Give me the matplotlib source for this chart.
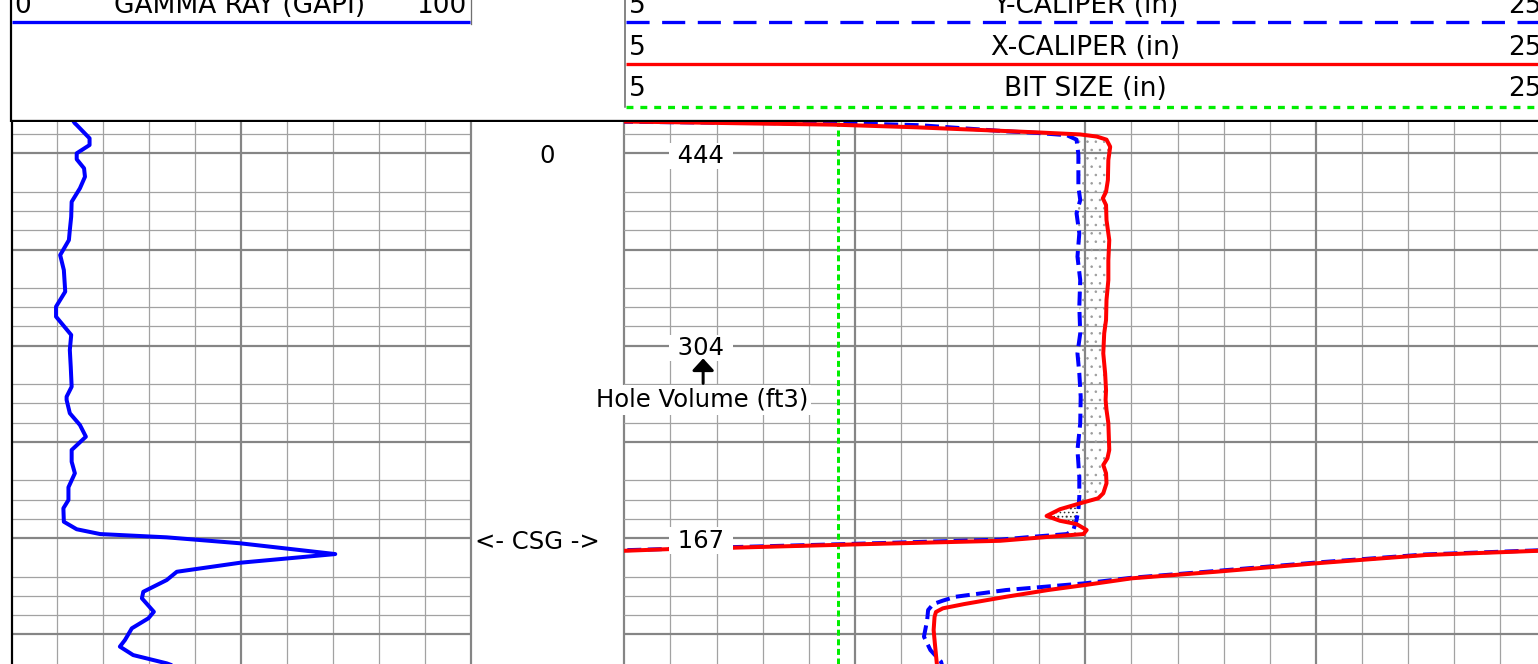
import numpy as np
import matplotlib
matplotlib.use("Agg")
import matplotlib.pyplot as plt

# ---------------- data ----------------
# Gamma ray track: depth (ft) / GAPI
gr_depth = [-16.6, -15.6, -14.7, -7.8, -4.3, 0.0, 3.1, 7.8, 12.2, 18.2, 25.2, 33.0, 39.9, 45.1,
            52.9, 60.7, 71.9, 79.7, 84.9, 94.4, 102.2, 110.9, 121.3, 126.5, 128.2, 135.1, 141.2,
            147.3, 154.2, 160.3, 166.3, 173.6, 180.2, 184.5, 191.5, 195.4, 197.9, 199.6, 202.7,
            208.3, 212.8, 217.5, 221.8, 227.9, 231.3, 238.3, 241.7, 246.9, 253.0, 256.4, 260.8,
            265.1, 267.0]
gr_api = [13.5, 13.8, 14.2, 17.0, 17.0, 14.2, 14.2, 15.8, 16.0, 14.9, 13.1, 13.0, 12.7, 12.5,
          10.6, 11.4, 11.7, 9.7, 9.7, 13.0, 12.7, 12.9, 13.1, 12.0, 12.0, 12.7, 14.9,
          16.2, 13.1, 13.1, 13.8, 12.4, 12.4, 11.3, 11.4, 14.2, 19.3, 33.8, 49.8,
          70.5, 49.8, 36.0, 33.8, 28.7, 28.4, 31.0, 29.8, 26.2, 24.7, 23.6, 26.5,
          33.8, 36.0]

nan = float("nan")
# X-caliper (in)
calx_depth = [-16.8, -16.5, -16.2, -15.6, -14.9, -13.5, -11.7, -10.8, -9.8, -8.7,
              -7.1, -3.4, 3.5, 13.9, 20.0, 23.4, 26.9, 34.7, 41.6, 45.1,
              55.5, 65.9, 76.2, 86.6, 93.6, 104.0, 114.3, 123.1, 128.2, 133.4,
              140.3, 154.2, 158.5, 162.0, 166.3, 171.5, 176.7, 179.3, 181.9, 185.0,
              188.5, 191.0, 192.7, 195.8, 197.9, 199.3, 201.4, 203.2, 205.0, 205.7,
              206.6, 207.4, nan,
              206.1, 206.4, 206.6, 208.8, 213.1, 217.5, 220.9, 224.4, 227.0, 230.5,
              234.3, 236.5, 238.4, 240.9, 247.8, 255.6, 265.4, 268.5]
calx_in = [4.0, 5.0, 5.95, 7.51, 9.53, 11.34, 13.15, 14.02, 14.89, 15.25,
           15.46, 15.54, 15.50, 15.49, 15.45, 15.38, 15.45, 15.46, 15.50, 15.52,
           15.50, 15.50, 15.46, 15.45, 15.41, 15.39, 15.43, 15.45, 15.44, 15.46,
           15.50, 15.52, 15.48, 15.39, 15.45, 15.46, 15.39, 15.28, 14.89, 14.45,
           14.16, 14.45, 14.81, 15.03, 14.96, 14.23, 13.15, 10.11, 7.34, 6.0,
           5.0, 4.0, nan,
           26.0, 25.0, 24.82, 22.38, 20.01, 17.83, 16.01, 14.99, 14.19, 13.28,
           12.37, 11.91, 11.76, 11.73, 11.71, 11.74, 11.78, 11.80]
# Y-caliper (in)
caly_depth = [-16.8, -16.4, -15.8, -15.2, -14.6, -11.4, -10.6, -9.4, -7.1, 0.7,
              10.4, 17.4, 24.3, 31.2, 41.6, 53.7, 65.9, 79.7, 93.6, 104.0,
              114.3, 126.5, 140.3, 154.2, 168.1, 178.5, 185.4, 190.6, 195.8, 197.9,
              199.3, 200.8, 202.9, 204.7, 206.3, 207.1, nan,
              205.8, 206.2, 208.5, 212.7, 217.1, 220.6, 223.5, 227.0, 230.5, 232.5,
              234.3, 237.4, 242.6, 251.2, 258.2, 264.2, 268.5]
caly_in = [4.0, 5.0, 7.5, 10.47, 11.41, 13.30, 13.95, 14.60, 14.81, 14.85,
           14.85, 14.85, 14.89, 14.81, 14.87, 14.83, 14.89, 14.87, 14.89, 14.83,
           14.87, 14.90, 14.89, 14.83, 14.87, 14.87, 14.85, 14.81, 14.74, 14.60,
           13.87, 13.15, 10.11, 7.34, 5.0, 4.0, nan,
           26.0, 25.0, 22.38, 20.01, 17.83, 16.01, 14.99, 13.28, 12.18, 11.91,
           11.70, 11.59, 11.57, 11.50, 11.64, 11.87, 11.92]
bit_size = 9.625

hole_vol_labels = ["444", "304", "167"]
hole_vol_depths = [0, 100, 200]
depth_labels = ["0"]
depth_label_depths = [0]
csg_depth = 200.9

gr_range = (0, 100)
cal_range = (5, 25)

# ---------------- layout ----------------
W, H, DPI = 1538, 664, 100
PX = 0.72  # points per pixel
fig = plt.figure(figsize=(W / DPI, H / DPI), dpi=DPI)
fig.patch.set_facecolor("white")
plt.rcParams["hatch.linewidth"] = 0.6

def px_axes(x0, x1, y0, y1):
    return fig.add_axes([x0 / W, 1 - y1 / H, (x1 - x0) / W, (y1 - y0) / H])

BODY_TOP, BODY_BOT = 122.0, 664.0
Y0_PX, PX_PER_FT = 153.3, 1.924
d_top = (BODY_TOP - Y0_PX) / PX_PER_FT
d_bot = (BODY_BOT - Y0_PX) / PX_PER_FT

X_GR0, X_GR1 = 11.5, 470.7
X_CAL0, X_CAL1 = 624.3, 1546.3

THIN_C, THICK_C = "#a2a2a2", "#858585"
THIN_W, THICK_W = 1.25 * PX, 2.2 * PX

FONT = "DejaVu Sans"
HDR_FS = 26.4 * PX
BODY_FS = 24.2 * PX

depth_major = [d for d in np.arange(-50, 300, 50)]
depth_minor = [d for d in np.arange(-50, 300, 10) if d % 50 in (20, 30, 40)]

def depth_grid(ax):
    for d in depth_minor:
        ax.axhline(d, color=THIN_C, lw=THIN_W, zorder=0.5)
    for d in depth_major:
        ax.axhline(d, color=THICK_C, lw=THICK_W, zorder=0.6)

# ---- gamma ray track ----
ax_gr = px_axes(X_GR0, X_GR1, BODY_TOP, BODY_BOT)
ax_gr.set_xlim(*gr_range)
ax_gr.set_ylim(d_bot, d_top)
ax_gr.axis("off")
depth_grid(ax_gr)
for v in range(10, 100, 10):
    if v == 50:
        ax_gr.axvline(v, color=THICK_C, lw=THICK_W, zorder=0.6)
    else:
        ax_gr.axvline(v, color=THIN_C, lw=THIN_W, zorder=0.5)
ax_gr.axvline(0, color="black", lw=2.2 * PX, clip_on=False, zorder=3)
ax_gr.plot(gr_api, gr_depth, color="#0000ff", lw=4.0 * PX, solid_joinstyle="round",
           solid_capstyle="round", zorder=2)

# ---- depth track ----
ax_dp = px_axes(X_GR1, X_CAL0, BODY_TOP, BODY_BOT)
ax_dp.set_xlim(0, 1)
ax_dp.set_ylim(d_bot, d_top)
ax_dp.axis("off")
ax_dp.axvline(0, color=THICK_C, lw=THICK_W, clip_on=False, zorder=1)
ax_dp.axvline(1, color=THICK_C, lw=THICK_W, clip_on=False, zorder=1)
for lab, d in zip(depth_labels, depth_label_depths):
    ax_dp.text(0.497, d, lab, ha="center", va="center_baseline", fontsize=BODY_FS,
               family=FONT, color="black")
ax_dp.text(0.435, csg_depth, "<- CSG ->", ha="center", va="center_baseline",
           fontsize=BODY_FS, family=FONT, color="black")

# ---- caliper track ----
ax_cal = px_axes(X_CAL0, X_CAL1, BODY_TOP, BODY_BOT)
ax_cal.set_xlim(*cal_range)
ax_cal.set_ylim(d_bot, d_top)
ax_cal.axis("off")
depth_grid(ax_cal)
for v in range(6, 25):
    if v % 5 == 0:
        ax_cal.axvline(v, color=THICK_C, lw=THICK_W, zorder=0.6)
    else:
        ax_cal.axvline(v, color=THIN_C, lw=THIN_W, zorder=0.5)

cxd, cxi = np.array(calx_depth), np.array(calx_in)
cyd, cyi = np.array(caly_depth), np.array(caly_in)

# washout shading between the two calipers
m_r = (cxd >= -7.1) & (cxd <= 197.9)
m_b = (cyd >= -7.1) & (cyd <= 197.9)
ax_cal.fill(np.concatenate([cxi[m_r], cyi[m_b][::-1]]),
            np.concatenate([cxd[m_r], cyd[m_b][::-1]]),
            facecolor="none", edgecolor="#9c9c9c", hatch="..", linewidth=0, zorder=1.2)
m_r2 = (cxd >= 181.9) & (cxd <= 192.7)
m_b2 = (cyd >= 181.9) & (cyd <= 192.7)
ax_cal.fill(np.concatenate([cxi[m_r2], cyi[m_b2][::-1]]),
            np.concatenate([cxd[m_r2], cyd[m_b2][::-1]]),
            facecolor="none", edgecolor="#303030", hatch="....", linewidth=0, zorder=1.3)

ax_cal.axvline(bit_size, color="#00ee00", lw=3.0 * PX, linestyle=(0, (2.0, 1.2)), zorder=1.5)
ax_cal.plot(caly_in, caly_depth, color="#0000ff", lw=4.0 * PX,
            linestyle=(0, (3.5, 1.6)), zorder=2)
ax_cal.plot(calx_in, calx_depth, color="#ff0000", lw=4.0 * PX,
            solid_joinstyle="round", zorder=2.2)

for lab, d in zip(hole_vol_labels, hole_vol_depths):
    ax_cal.text(6.66, d, " " + lab + " ", ha="center", va="center_baseline",
                fontsize=BODY_FS, family=FONT, color="black", zorder=5,
                bbox=dict(boxstyle="square,pad=0.05", fc="white", ec="none"))
ax_cal.text(6.69, 126.8, "Hole Volume (ft3)", ha="center", va="center_baseline",
            fontsize=BODY_FS, family=FONT, color="black", zorder=5,
            bbox=dict(boxstyle="square,pad=0.12", fc="white", ec="none"))
ax_cal.annotate("", xy=(6.71, 106.6), xytext=(6.71, 119.6),
                arrowprops=dict(arrowstyle="-|>,head_length=0.36,head_width=0.33",
                                mutation_scale=20, lw=3.0 * PX, color="black",
                                shrinkA=0, shrinkB=0), zorder=5)

# ---- header ----
hd = px_axes(0, W, 0, BODY_TOP)
hd.set_xlim(0, W)
hd.set_ylim(BODY_TOP, 0)
hd.axis("off")
hd.plot([10, W], [120.7, 120.7], color="black", lw=2.3 * PX, solid_capstyle="butt")
hd.plot([10.8, 10.8], [0, BODY_TOP], color="black", lw=2.2 * PX, solid_capstyle="butt")
hd.plot([470.5, 470.5], [0, 24], color="#707070", lw=1.3 * PX)
hd.plot([625, 625], [0, 107], color="#606060", lw=1.5 * PX)

# gamma ray header
hd.plot([12, 470], [21.7, 21.7], color="#0000ff", lw=3.3 * PX, solid_capstyle="butt")
hd.text(14, 13.3, "0", ha="left", va="baseline", fontsize=HDR_FS, family=FONT)
hd.text(240, 13.3, "GAMMA RAY (GAPI)", ha="center", va="baseline", fontsize=HDR_FS, family=FONT)
hd.text(466, 13.3, "100", ha="right", va="baseline", fontsize=HDR_FS, family=FONT)

# caliper headers
rows = [("Y-CALIPER (in)", 13.3, 22.3, "#0000ff", (0, (7.0, 3.8))),
        ("X-CALIPER (in)", 55.0, 64.3, "#ff0000", "-"),
        ("BIT SIZE (in)", 96.3, 106.7, "#00ee00", (0, (2.1, 2.1)))]
for name, base, ly, col, ls in rows:
    hd.plot([626, W], [ly, ly], color=col, lw=3.3 * PX, linestyle=ls, solid_capstyle="butt")
    hd.text(628.5, base, str(cal_range[0]), ha="left", va="baseline", fontsize=HDR_FS, family=FONT)
    hd.text((X_CAL0 + X_CAL1) / 2, base, name, ha="center", va="baseline",
            fontsize=HDR_FS, family=FONT)
    hd.text(1542, base, str(cal_range[1]), ha="right", va="baseline", fontsize=HDR_FS, family=FONT)

fig.savefig("out.png", dpi=DPI, facecolor="white")
